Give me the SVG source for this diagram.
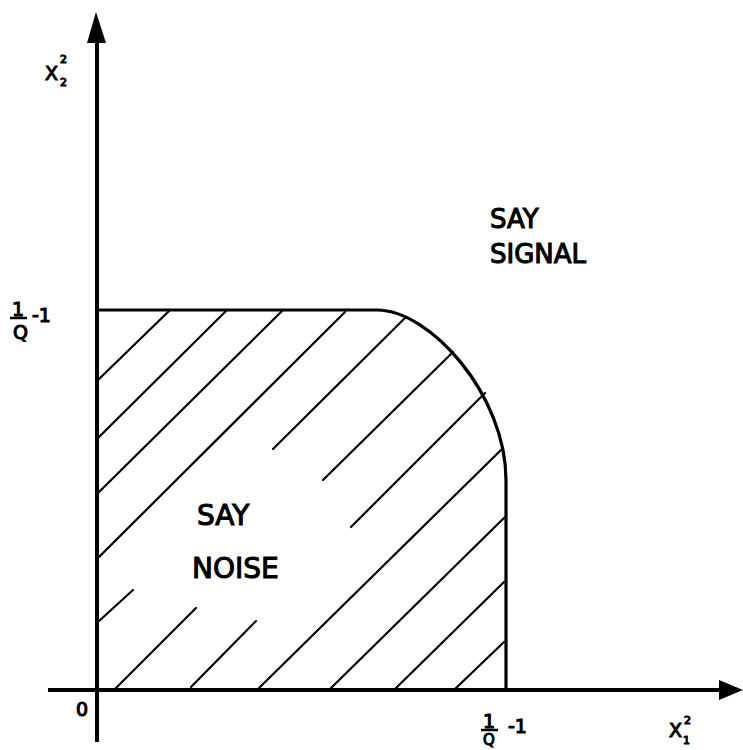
<svg xmlns="http://www.w3.org/2000/svg" width="743" height="750" viewBox="0 0 743 750">
  <style>
    .axis { stroke: #000; stroke-width: 4; fill: none; }
    .bound { stroke: #000; stroke-width: 3.2; fill: none; stroke-linejoin: round; }
    .hatch { stroke: #000; stroke-width: 2.2; fill: none; stroke-linecap: round; }
    .lbl { font-family: "DejaVu Sans", "Liberation Sans", sans-serif; fill: #000; stroke: #000; stroke-width: 1.1; }
    .big { font-size: 26px; }
    .sm { font-size: 19px; }
    .tiny { font-size: 11px; }
  </style>
  <rect width="743" height="750" fill="#fff"/>

  <g id="axes">
    <line class="axis" x1="97" y1="742" x2="97" y2="38"/>
    <polygon points="96,12 106,43 87,43" fill="#000"/>
    <line class="axis" x1="48" y1="690" x2="722" y2="690"/>
    <polygon points="743,690 719,680 719,700" fill="#000"/>
  </g>

  <g id="hatching">
    <line class="hatch" x1="98" y1="380" x2="169" y2="311"/>
    <line class="hatch" x1="98" y1="438" x2="226" y2="311"/>
    <line class="hatch" x1="98" y1="493" x2="282" y2="311"/>
    <line class="hatch" x1="99" y1="557" x2="345" y2="312"/>
    <line class="hatch" x1="273" y1="449" x2="405" y2="318"/>
    <line class="hatch" x1="323" y1="480" x2="453" y2="352"/>
    <line class="hatch" x1="351" y1="527" x2="485" y2="393"/>
    <line class="hatch" x1="258" y1="689" x2="503" y2="448"/>
    <line class="hatch" x1="330" y1="689" x2="505" y2="517"/>
    <line class="hatch" x1="395" y1="689" x2="504" y2="582"/>
    <line class="hatch" x1="455" y1="689" x2="504" y2="642"/>
    <line class="hatch" x1="99" y1="621" x2="133" y2="590"/>
    <line class="hatch" x1="115" y1="689" x2="196" y2="608"/>
    <line class="hatch" x1="191" y1="687" x2="256" y2="621"/>
  </g>

  <g id="boundary">
    <path class="bound" d="M97,310 H377 C430,310 506,395 506,480 V690"/>
  </g>

  <g id="labels">
    <text class="lbl sm" x="45" y="80">X</text>
    <text class="lbl tiny" x="60" y="63">2</text>
    <text class="lbl tiny" x="60" y="86">2</text>

    <text class="lbl sm" x="12" y="316">1</text>
    <line x1="10" y1="318" x2="27" y2="318" stroke="#000" stroke-width="2.5"/>
    <text class="lbl sm" x="13" y="339">Q</text>
    <text class="lbl sm" x="32" y="322">-1</text>

    <text class="lbl sm" x="76" y="716">0</text>

    <text class="lbl sm" x="483" y="728">1</text>
    <line x1="481" y1="730" x2="498" y2="730" stroke="#000" stroke-width="2.5"/>
    <text class="lbl" x="483" y="745" style="font-size:15px">Q</text>
    <text class="lbl sm" x="508" y="733">-1</text>

    <text class="lbl sm" x="669" y="737">X</text>
    <text class="lbl tiny" x="684" y="724">2</text>
    <text class="lbl tiny" x="683" y="744">1</text>

    <text class="lbl big" x="490" y="228">SAY</text>
    <text class="lbl big" x="490" y="263">SIGNAL</text>

    <text class="lbl big" x="197" y="525" style="font-size:28px">SAY</text>
    <text class="lbl big" x="192" y="578" style="font-size:28px">NOISE</text>
  </g>
</svg>
